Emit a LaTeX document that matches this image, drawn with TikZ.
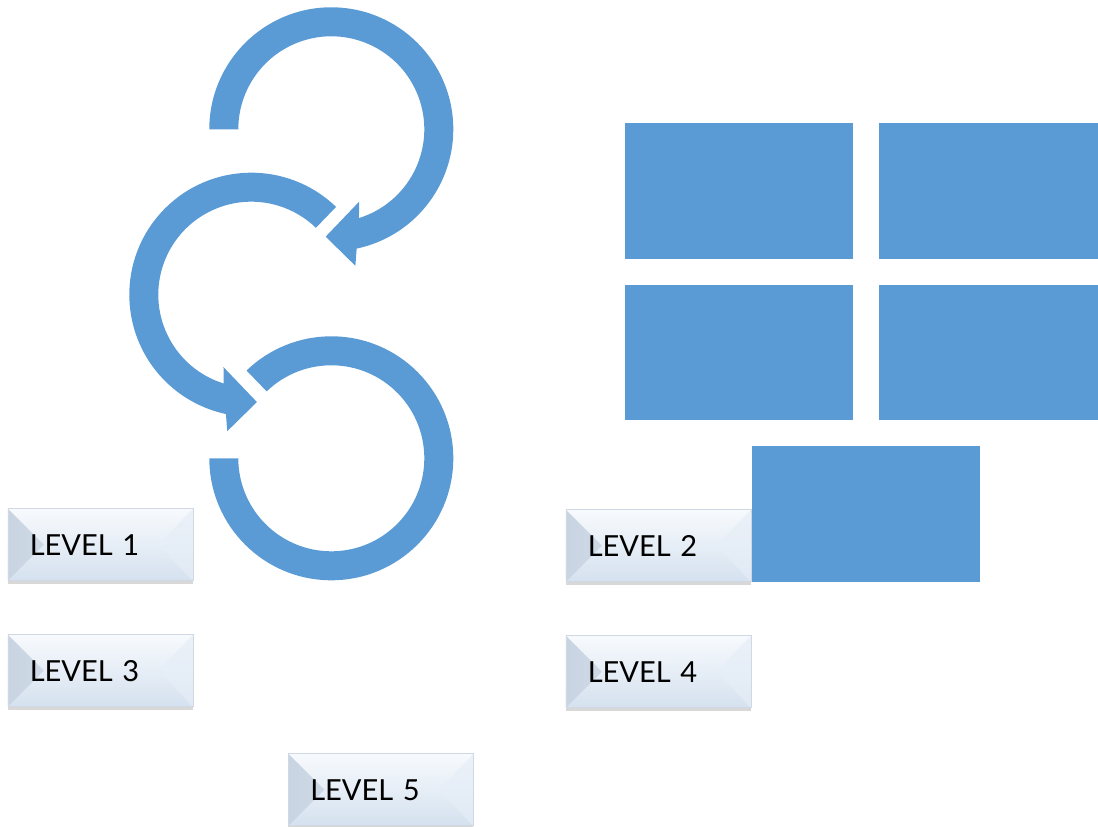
\documentclass[tikz,border=0pt]{standalone}
\usepackage{fontspec}
\setmainfont{Lato}
\usetikzlibrary{shadows,calc}
\definecolor{ringblue}{HTML}{5B9BD5}
\definecolor{bevtop}{HTML}{F7FAFD}
\definecolor{bevbot}{HTML}{D5E1EF}
\definecolor{bevleft}{HTML}{C9D4E2}
\definecolor{bevleftin}{HTML}{E3EAF3}
\definecolor{bevright}{HTML}{E6EEF7}
\definecolor{bevedge}{HTML}{CFD8E3}
\begin{document}
\begin{tikzpicture}[x=1pt,y=1pt,
  ring/.style={fill=ringblue,draw=none},
  tile/.style={fill=ringblue,draw=none},
  levelbox/.style={anchor=south west,minimum width=185pt,minimum height=72pt,
    inner xsep=22pt,inner ysep=0pt,text width=141pt,align=left,
    font=\fontsize{29}{31}\selectfont,
    top color=bevtop,bottom color=bevbot,draw=bevedge,line width=0.5pt,
    drop shadow={shadow xshift=0pt,shadow yshift=-3pt,opacity=0.22,fill=black!70},
    path picture={
      \shade[left color=bevleft,right color=bevleftin]
        (path picture bounding box.north west)
        -- ($(path picture bounding box.west)+(36pt,0)$)
        -- (path picture bounding box.south west) -- cycle;
      \fill[fill=bevright,opacity=0.7]
        (path picture bounding box.north east)
        -- ($(path picture bounding box.east)+(-34pt,0)$)
        -- (path picture bounding box.south east) -- cycle;
    }}]
\useasboundingbox (0,0) rectangle (1098,827);
% cycle arrows
\begin{scope}[shift={(331.3,697.7)}]
  \fill[ring] (180:122pt) arc[start angle=180,end angle=-78,radius=122pt]
    -- (-80:138.6pt) -- (-93:107.5pt) -- (-69:77.6pt) -- (-72.7:93pt)
    arc[start angle=-72.7,end angle=180,radius=93pt] -- cycle;
\end{scope}
\begin{scope}[shift={(251.3,532.3)}]
  \fill[ring] (46:122pt) arc[start angle=46,end angle=258,radius=122pt]
    -- (260:138.6pt) -- (273:107.5pt) -- (249:77.6pt) -- (252.7:93pt)
    arc[start angle=252.7,end angle=46,radius=93pt] -- cycle;
\end{scope}
\begin{scope}[shift={(331.3,368.7)}]
  \fill[ring] (180:122pt) arc[start angle=180,end angle=494,radius=122pt]
    -- (494:93pt) arc[start angle=494,end angle=180,radius=93pt] -- cycle;
\end{scope}
% tiles
\fill[tile] (625.3,568) rectangle (853,703.7);
\fill[tile] (878.7,568) rectangle (1098,703.7);
\fill[tile] (625.3,406.7) rectangle (853,542);
\fill[tile] (878.7,406.7) rectangle (1098,542);
\fill[tile] (752,245.3) rectangle (980,380.7);
% level buttons
\node[levelbox] (l1) at (7.5,246) {LEVEL 1};
\node[levelbox] (l2) at (565.5,245) {LEVEL 2};
\node[levelbox] (l3) at (7.5,120) {LEVEL 3};
\node[levelbox] (l4) at (565.5,119) {LEVEL 4};
\node[levelbox] (l5) at (288,1) {LEVEL 5};
\end{tikzpicture}
\end{document}
